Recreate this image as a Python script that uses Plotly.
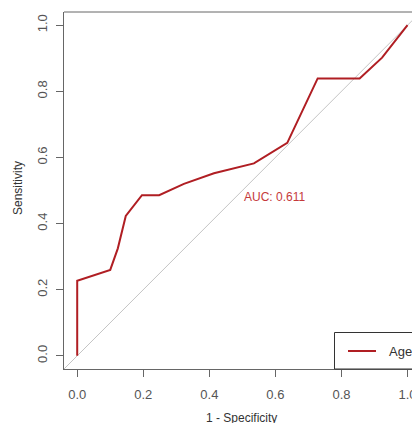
import plotly.graph_objects as go

# ROC curve points (1 - specificity, sensitivity)
fpr = [0.0, 0.0, 0.10, 0.123, 0.147, 0.196, 0.248, 0.323, 0.414, 0.535, 0.636, 0.728, 0.855, 0.923, 1.0]
tpr = [0.0, 0.227, 0.26, 0.325, 0.423, 0.486, 0.486, 0.52, 0.552, 0.582, 0.644, 0.839, 0.839, 0.902, 1.0]
diag = [-0.04, 1.04]
tick_vals = [0.0, 0.2, 0.4, 0.6, 0.8, 1.0]
tick_text = ["0.0", "0.2", "0.4", "0.6", "0.8", "1.0"]
auc_label = "AUC: 0.611"
legend_label = "Age"

LINE_COL = "#B01E23"
TEXT_COL = "#C53A3A"
GRAY = "#555555"
FONT = "Liberation Sans, Arial, sans-serif"

W, H = 412, 423
ml, mr, mt, mb = 64, 0, 12, 54
pw, ph = W - ml - mr, H - mt - mb

fig = go.Figure()
fig.add_trace(go.Scatter(x=diag, y=diag, mode="lines",
                         line=dict(color="#C4C4C4", width=1), showlegend=False, hoverinfo="skip"))
fig.add_trace(go.Scatter(x=fpr, y=tpr, mode="lines", name=legend_label,
                         line=dict(color=LINE_COL, width=2), showlegend=False))

fig.add_annotation(x=0.5, y=0.48, xref="x", yref="y", text=auc_label, showarrow=False,
                   xanchor="left", yanchor="middle", font=dict(family=FONT, size=12, color=TEXT_COL))

def px(xp):
    return (xp - ml) / pw

def py(yp):
    return (H - mb - yp) / ph

# box: top line (right edge is off-screen)
fig.add_shape(type="line", xref="paper", yref="paper", x0=0, x1=1.05, y0=1, y1=1,
              line=dict(color="#666666", width=1))

# legend box (extends beyond visible area)
fig.add_shape(type="rect", xref="paper", yref="paper", x0=px(334.5), x1=1.1, y0=py(332.5), y1=0,
              line=dict(color="#333333", width=1), fillcolor="white", layer="above")
fig.add_shape(type="line", xref="paper", yref="paper", x0=px(348), x1=px(376), y0=py(351), y1=py(351),
              line=dict(color=LINE_COL, width=2), layer="above")
fig.add_annotation(x=px(387), y=py(351), xref="paper", yref="paper", text=legend_label, showarrow=False,
                   xanchor="left", yanchor="middle", font=dict(family=FONT, size=13, color="#333333"))

# axis titles
fig.add_annotation(x=px(241.7), y=py(418), xref="paper", yref="paper", text="1 - Specificity",
                   showarrow=False, xanchor="center", yanchor="middle",
                   font=dict(family=FONT, size=12, color="#333333"))
fig.add_annotation(x=px(18), y=py(188), xref="paper", yref="paper", text="Sensitivity",
                   showarrow=False, textangle=-90, xanchor="center", yanchor="middle",
                   font=dict(family=FONT, size=12, color="#333333"))

fig.update_xaxes(range=[-0.04, -0.04 + pw / 330.3], tickvals=tick_vals, ticktext=tick_text,
                 showgrid=False, zeroline=False, showline=True, linecolor="#666666", linewidth=1,
                 ticks="outside", ticklen=7, tickcolor="#666666", ticklabeloverflow="allow",
                 ticklabelstandoff=6,
                 tickfont=dict(family=FONT, size=13, color=GRAY))
fig.update_yaxes(range=[-0.04, 1.04], tickvals=tick_vals, ticktext=tick_text,
                 showgrid=False, zeroline=False, showline=True, linecolor="#666666", linewidth=1,
                 ticks="outside", ticklen=7, tickcolor="#666666", tickangle=-90,
                 ticklabelstandoff=4,
                 tickfont=dict(family=FONT, size=13, color=GRAY))

fig.update_layout(width=W, height=H, margin=dict(l=ml, r=mr, t=mt, b=mb, autoexpand=False),
                  plot_bgcolor="white", paper_bgcolor="white", showlegend=False)

fig.write_html("out.html", config={"displayModeBar": False},
               post_script="document.body.style.margin='0';document.body.style.overflow='hidden';")
